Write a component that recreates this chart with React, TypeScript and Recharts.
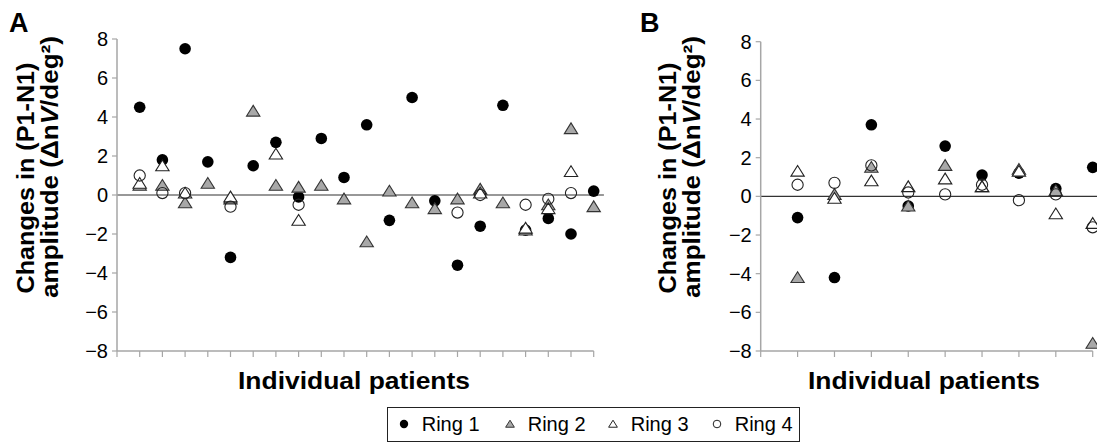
import { ScatterChart, Scatter, XAxis, YAxis, ReferenceLine } from 'recharts';

// Panel A: 21 patients, panel B: 9 patients (null = no marker)
const ringNames = ['Ring 1', 'Ring 2', 'Ring 3', 'Ring 4'];

const ring1A = [4.5, 1.8, 7.5, 1.7, -3.2, 1.5, 2.7, -0.1, 2.9, 0.9, 3.6, -1.3, 5.0, -0.3, -3.6, -1.6, 4.6, -1.8, -1.2, -2.0, 0.2];
const ring2A = [0.5, 0.5, -0.4, 0.6, -0.2, 4.3, 0.5, 0.4, 0.5, -0.2, -2.4, 0.2, -0.4, -0.7, -0.2, 0.3, -0.4, -1.8, -0.5, 3.4, -0.6];
const ring3A = [0.6, 1.5, 0.1, null, -0.1, null, 2.1, -1.3, null, null, null, null, null, null, null, 0.1, null, -1.7, -0.7, 1.2, null];
const ring4A = [1.0, 0.1, 0.1, null, -0.6, null, null, -0.5, null, null, null, null, null, null, -0.9, 0.0, null, -0.5, -0.2, 0.1, null];

const ring1B = [-1.1, -4.2, 3.7, -0.5, 2.6, 1.1, 1.2, 0.4, 1.5];
const ring2B = [-4.2, 0.1, 1.5, -0.5, 1.6, 0.5, 1.4, 0.3, -7.6];
const ring3B = [1.3, -0.1, 0.8, 0.5, 0.9, 0.5, 1.3, -0.9, -1.4];
const ring4B = [0.6, 0.7, 1.6, 0.2, 0.1, 0.6, -0.2, 0.1, -1.6];

const yTicks = [-8, -6, -4, -2, 0, 2, 4, 6, 8];

const FONT = '"Liberation Sans", Arial, sans-serif';
const AXIS = '#a6a6a6';

function toPoints(values: (number | null)[]) {
  return values
    .map((v, i) => (v === null ? null : { x: i + 1, y: v }))
    .filter((p) => p !== null) as { x: number; y: number }[];
}

function BlackDot(props: any) {
  const { cx, cy } = props;
  return <circle cx={cx} cy={cy} r={5.8} fill="#000" />;
}

function OpenDot(props: any) {
  const { cx, cy } = props;
  return <circle cx={cx} cy={cy} r={5.6} fill="none" stroke="#222" strokeWidth={1.1} />;
}

function triPath(cx: number, cy: number, s: number) {
  return `M${cx},${cy - s} L${cx + s * 1.15},${cy + s * 0.85} L${cx - s * 1.15},${cy + s * 0.85} Z`;
}

function GreyTri(props: any) {
  const { cx, cy } = props;
  return <path d={triPath(cx, cy, 5.8)} fill="#a8a8a8" stroke="#333" strokeWidth={1.1} />;
}

function OpenTri(props: any) {
  const { cx, cy } = props;
  return <path d={triPath(cx, cy, 5.8)} fill="#fff" stroke="#222" strokeWidth={1.1} />;
}

const fmt = (v: number) => (v < 0 ? `\u2212${Math.abs(v)}` : `${v}`);

function Panel(props: {
  n: number;
  rings: (number | null)[][];
  width: number;
  margin: { top: number; right: number; bottom: number; left: number };
  lineEnd: number;
}) {
  const { n, rings, width, margin, lineEnd } = props;
  const xTicks = Array.from({ length: n + 1 }, (_, i) => i);
  const shapes = [BlackDot, GreyTri, OpenTri, OpenDot];
  return (
    <ScatterChart width={width} height={400} margin={margin}>
      <XAxis
        type="number"
        dataKey="x"
        domain={[0, n]}
        ticks={xTicks}
        tickFormatter={() => ''}
        tickSize={6}
        height={10}
        stroke={AXIS}
        axisLine={{ stroke: AXIS, strokeWidth: 1.5 }}
        tickLine={{ stroke: AXIS, strokeWidth: 1.2 }}
      />
      <YAxis
        type="number"
        dataKey="y"
        domain={[-8, 8]}
        ticks={yTicks}
        tickFormatter={fmt}
        width={50}
        tickSize={5}
        tickMargin={4}
        axisLine={{ stroke: AXIS, strokeWidth: 1.5 }}
        tickLine={{ stroke: AXIS, strokeWidth: 1.2 }}
        tick={{ fill: '#000', fontSize: 20, fontFamily: FONT }}
      />
      <ReferenceLine
        segment={[
          { x: 0, y: 0 },
          { x: lineEnd, y: 0 },
        ]}
        ifOverflow="visible"
        stroke="#333"
        strokeWidth={1.2}
      />
      {rings.map((vals, k) => (
        <Scatter
          key={ringNames[k]}
          name={ringNames[k]}
          data={toPoints(vals)}
          shape={shapes[k]}
          isAnimationActive={false}
        />
      ))}
    </ScatterChart>
  );
}

function YTitle({ x1, x2 }: { x1: number; x2: number }) {
  return (
    <g fontWeight="bold" fontSize={24} fill="#000">
      <text x={x1} y={178} transform={`rotate(-90 ${x1} 178)`} textAnchor="middle" textLength={231} lengthAdjust="spacingAndGlyphs">
        Changes in (P1-N1)
      </text>
      <text x={x2} y={167} transform={`rotate(-90 ${x2} 167)`} textAnchor="middle" textLength={262} lengthAdjust="spacingAndGlyphs">
        amplitude (Δn<tspan fontStyle="italic">V</tspan>/deg²)
      </text>
    </g>
  );
}

export default function App() {
  const legendX = [397, 503, 606, 710];
  const shapesL = [
    (cx: number, cy: number) => <circle cx={cx} cy={cy} r={4.2} fill="#000" />,
    (cx: number, cy: number) => <path d={triPath(cx, cy, 3.8)} fill="#a8a8a8" stroke="#333" strokeWidth={1} />,
    (cx: number, cy: number) => <path d={triPath(cx, cy, 3.8)} fill="#fff" stroke="#222" strokeWidth={1} />,
    (cx: number, cy: number) => <circle cx={cx} cy={cy} r={3.8} fill="none" stroke="#222" strokeWidth={1} />,
  ];
  return (
    <div
      style={{
        position: 'absolute',
        left: 0,
        top: 0,
        width: 1097,
        height: 445,
        overflow: 'hidden',
        background: '#fff',
        fontFamily: FONT,
      }}
    >
      <div style={{ position: 'absolute', left: 0, top: 0 }}>
        <Panel
          n={21}
          rings={[ring1A, ring2A, ring3A, ring4A]}
          width={620}
          margin={{ top: 39, right: 26.3, bottom: 39, left: 67 }}
          lineEnd={21.45}
        />
      </div>
      <div style={{ position: 'absolute', left: 640, top: 0 }}>
        <Panel
          n={9}
          rings={[ring1B, ring2B, ring3B, ring4B]}
          width={480}
          margin={{ top: 41.7, right: 27.3, bottom: 39, left: 70.7 }}
          lineEnd={9.5}
        />
      </div>
      <svg
        width={1097}
        height={445}
        style={{ position: 'absolute', left: 0, top: 0, pointerEvents: 'none' }}
        fontFamily={FONT}
      >
        <text x={9} y={32} fontSize={27} fontWeight="bold">A</text>
        <text x={640} y={32} fontSize={27} fontWeight="bold">B</text>
        <YTitle x1={34} x2={58} />
        <YTitle x1={676} x2={700} />
        <text x={354} y={389} fontSize={24} fontWeight="bold" textAnchor="middle" textLength={232} lengthAdjust="spacingAndGlyphs">
          Individual patients
        </text>
        <text x={924} y={389} fontSize={24} fontWeight="bold" textAnchor="middle" textLength={232} lengthAdjust="spacingAndGlyphs">
          Individual patients
        </text>
        <rect x={387.5} y={407.5} width={412} height={34} fill="none" stroke="#222" strokeWidth={1} />
        {ringNames.map((name, k) => (
          <g key={name}>
            {shapesL[k](legendX[k] + 7, 424)}
            <text x={legendX[k] + 24.7} y={431} fontSize={20}>
              {name}
            </text>
          </g>
        ))}
      </svg>
    </div>
  );
}
